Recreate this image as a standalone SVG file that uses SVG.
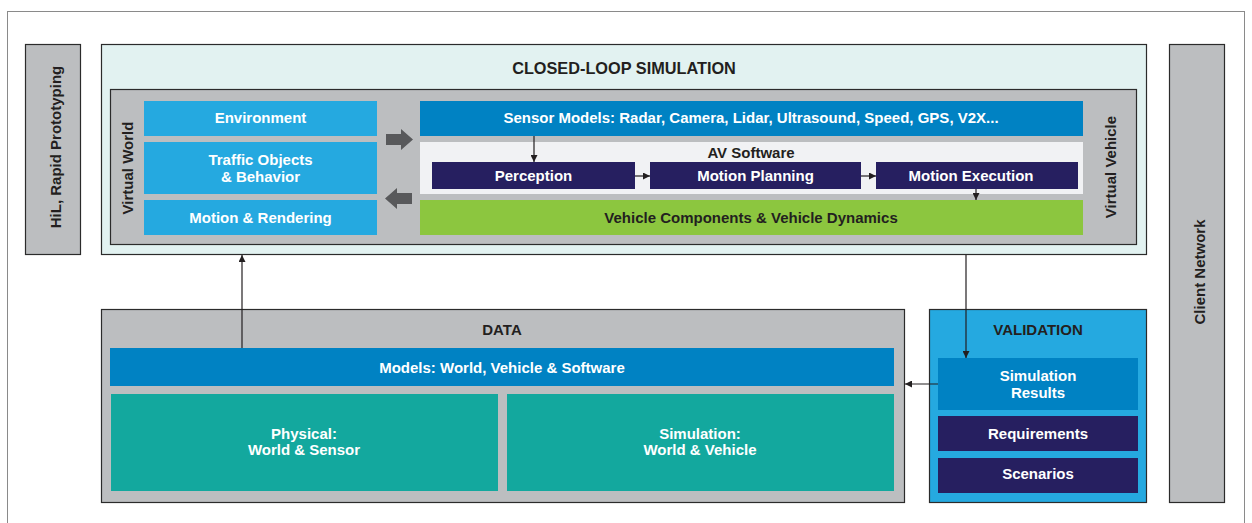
<svg xmlns="http://www.w3.org/2000/svg" width="1252" height="523" viewBox="0 0 1252 523">
  <style>
    text { font-family: "Liberation Sans", Arial, sans-serif; font-weight: bold; font-size: 15px; text-anchor: middle; }
    .title { font-size: 16.3px; }
    .w { fill: #ffffff; }
    .d { fill: #231f20; }
    .gray { fill: #bcbec0; stroke: #2b2b2b; stroke-width: 1.2; }
    .lt { fill: #25a9e0; }
    .mid { fill: #0082c3; }
    .navy { fill: #261f60; }
    .teal { fill: #13a89e; }
    .green { fill: #8cc63f; }
    .conn { stroke: #231f20; stroke-width: 1.2; fill: none; }
    .big { fill: #58595b; }
  </style>
  <defs>
    <marker id="ah" viewBox="0 0 10 10" refX="10" refY="5" markerWidth="7" markerHeight="7" markerUnits="userSpaceOnUse" orient="auto">
      <path d="M0,0 L10,5 L0,10 z" fill="#231f20"/>
    </marker>
  </defs>

  <!-- outer frame -->
  <rect x="7.5" y="11.5" width="1237" height="530" fill="#ffffff" stroke="#8a8a8a" stroke-width="1"/>

  <g id="hil">
    <rect class="gray" x="25.5" y="44.5" width="55" height="210"/>
    <text class="d" transform="translate(61,147) rotate(-90)">HiL, Rapid Prototyping</text>
  </g>

  <g id="closed-loop">
    <rect x="101.5" y="44.5" width="1045" height="210" fill="#e2f2f1" stroke="#2b2b2b" stroke-width="1.2"/>
    <text class="d title" x="624" y="74">CLOSED-LOOP SIMULATION</text>
    <rect class="gray" x="110.5" y="89.5" width="1026" height="155"/>
  </g>

  <g id="virtual-world">
    <text class="d" transform="translate(133,168) rotate(-90)">Virtual World</text>
    <g id="environment">
      <rect class="lt" x="144" y="101" width="233" height="35"/>
      <text class="w" x="260.5" y="123">Environment</text>
    </g>
    <g id="traffic">
      <rect class="lt" x="144" y="142" width="233" height="52"/>
      <text class="w" x="260.5" y="165">Traffic Objects</text>
      <text class="w" x="260.5" y="182">&amp; Behavior</text>
    </g>
    <g id="motion-rendering">
      <rect class="lt" x="144" y="200" width="233" height="35"/>
      <text class="w" x="260.5" y="223">Motion &amp; Rendering</text>
    </g>
  </g>

  <g id="virtual-vehicle">
    <text class="d" transform="translate(1116,167) rotate(-90)">Virtual Vehicle</text>
    <g id="sensor-models">
      <rect class="mid" x="420" y="101" width="663" height="35"/>
      <text class="w" x="751" y="123">Sensor Models: Radar, Camera, Lidar, Ultrasound, Speed, GPS, V2X...</text>
    </g>
    <g id="av-software">
      <rect x="420" y="142" width="663" height="52" fill="#f1f2f4"/>
      <text class="d" x="751" y="158">AV Software</text>
    </g>
    <g id="perception">
      <rect class="navy" x="432" y="162" width="203" height="27"/>
      <text class="w" x="533.5" y="181">Perception</text>
    </g>
    <g id="motion-planning">
      <rect class="navy" x="650" y="162" width="211" height="27"/>
      <text class="w" x="755.5" y="181">Motion Planning</text>
    </g>
    <g id="motion-execution">
      <rect class="navy" x="876" y="162" width="202" height="27"/>
      <text class="w" x="971" y="181">Motion Execution</text>
    </g>
    <g id="vehicle-components">
      <rect class="green" x="420" y="200" width="663" height="35"/>
      <text class="d" x="751" y="223">Vehicle Components &amp; Vehicle Dynamics</text>
    </g>
  </g>

  <g id="client-network">
    <rect class="gray" x="1169.5" y="44.5" width="55" height="458"/>
    <text class="d" transform="translate(1205,272) rotate(-90)">Client Network</text>
  </g>

  <g id="data">
    <rect class="gray" x="101.5" y="309.5" width="803" height="193"/>
    <text class="d" x="502" y="335">DATA</text>
    <g id="models">
      <rect class="mid" x="110" y="348" width="784" height="38"/>
      <text class="w" x="502" y="373">Models: World, Vehicle &amp; Software</text>
    </g>
    <g id="physical">
      <rect class="teal" x="111" y="394" width="387" height="97"/>
      <text class="w" x="304" y="439">Physical:</text>
      <text class="w" x="304" y="455">World &amp; Sensor</text>
    </g>
    <g id="simulation">
      <rect class="teal" x="507" y="394" width="387" height="97"/>
      <text class="w" x="700" y="439">Simulation:</text>
      <text class="w" x="700" y="455">World &amp; Vehicle</text>
    </g>
  </g>

  <g id="validation">
    <rect x="929.5" y="309.5" width="217" height="193" fill="#25a9e0" stroke="#2b2b2b" stroke-width="1.2"/>
    <text class="d" x="1038" y="335">VALIDATION</text>
    <g id="simulation-results">
      <rect class="mid" x="938" y="358" width="200" height="52"/>
      <text class="w" x="1038" y="381">Simulation</text>
      <text class="w" x="1038" y="398">Results</text>
    </g>
    <g id="requirements">
      <rect class="navy" x="938" y="416" width="200" height="35"/>
      <text class="w" x="1038" y="439">Requirements</text>
    </g>
    <g id="scenarios">
      <rect class="navy" x="938" y="458" width="200" height="35"/>
      <text class="w" x="1038" y="479">Scenarios</text>
    </g>
  </g>

  <g id="connectors">
    <!-- block arrows between the virtual world and the virtual vehicle -->
    <path class="big" d="M386,134 L401,134 L401,129 L413,139.5 L401,150 L401,145 L386,145 z"/>
    <path class="big" d="M412,193 L397,193 L397,188 L385,198.5 L397,209 L397,204 L412,204 z"/>
    <!-- software chain -->
    <line class="conn" x1="534" y1="136" x2="534" y2="162" marker-end="url(#ah)"/>
    <line class="conn" x1="635" y1="176" x2="650" y2="176" marker-end="url(#ah)"/>
    <line class="conn" x1="861" y1="176" x2="876" y2="176" marker-end="url(#ah)"/>
    <line class="conn" x1="976" y1="189" x2="976" y2="200" marker-end="url(#ah)"/>
    <!-- data feeds the simulation -->
    <line class="conn" x1="242" y1="348" x2="242" y2="255" marker-end="url(#ah)"/>
    <!-- simulation to validation -->
    <line class="conn" x1="966" y1="255" x2="966" y2="358" marker-end="url(#ah)"/>
    <!-- results back to data -->
    <line class="conn" x1="938" y1="384" x2="905" y2="384" marker-end="url(#ah)"/>
  </g>
</svg>
